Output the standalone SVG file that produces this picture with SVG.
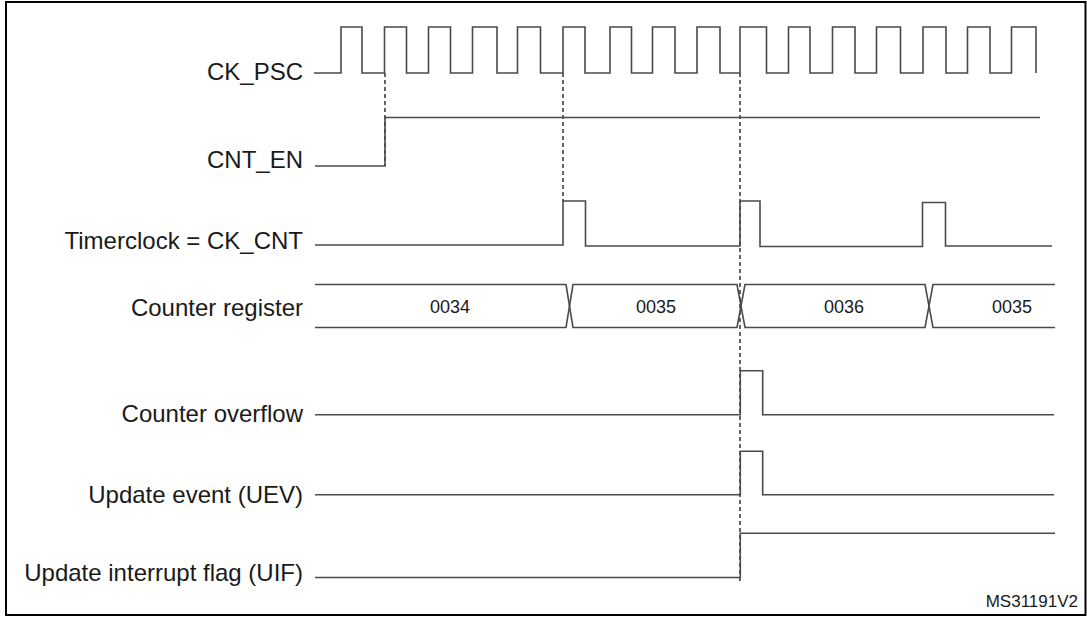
<svg xmlns="http://www.w3.org/2000/svg" width="1087" height="618" viewBox="0 0 1087 618">
<style>
.lbl{font-family:"Liberation Sans",Arial,sans-serif;font-size:24px;fill:#1a1a1a;text-anchor:end}
.val{font-family:"Liberation Sans",Arial,sans-serif;font-size:18px;fill:#1a1a1a;text-anchor:middle}
.sig{fill:none;stroke:#4a4a4a;stroke-width:1.6;stroke-linejoin:miter}
.dash{fill:none;stroke:#111;stroke-width:1.3;stroke-dasharray:4,3}
.note{font-family:"Liberation Sans",Arial,sans-serif;font-size:17px;fill:#1a1a1a;text-anchor:end}
</style>
<rect x="0" y="0" width="1087" height="618" fill="#fff"/>
<rect x="6" y="2" width="1079.5" height="613" fill="none" stroke="#000" stroke-width="2"/>
<g id="connectors">
<path class="dash" d="M385,73 V166"/>
<path class="dash" d="M563,73 V201"/>
<path class="dash" d="M740,73 V582"/>
</g>
<g id="ck_psc">
<text class="lbl" x="303" y="79.5">CK_PSC</text>
<path class="sig" d="M314,73 H341 V27 H362 V73 H384.5 V27 H406.5 V73 H428.5 V27 H450.5 V73 H472.5 V27 H497 V73 H517.5 V27 H540.5 V73 H563 V27 H585 V73 H610 V27 H631.5 V73 H652.5 V27 H675 V73 H697 V27 H720 V73 H740 V27 H766.5 V73 H788.5 V27 H810 V73 H832.5 V27 H855 V73 H876.5 V27 H900.5 V73 H923 V27 H946 V73 H967.5 V27 H990 V73 H1011.5 V27 H1036 V73"/>
</g>
<g id="cnt_en">
<text class="lbl" x="303" y="168">CNT_EN</text>
<path class="sig" d="M315,166 H385 V117.5 H1040"/>
</g>
<g id="timerclock">
<text class="lbl" x="303" y="248.5">Timerclock = CK_CNT</text>
<path class="sig" d="M315,245 H563 V201 H585.5 V246 H740 V201 H760 V246.5 H922.5 V202.5 H945.5 V246 H1052"/>
</g>
<g id="counter_register">
<text class="lbl" x="303" y="316">Counter register</text>
<path class="sig" d="M315,284.5 H566 L573,327.5 H737 L745,284.5 H925 L933,327.5 H1055"/>
<path class="sig" d="M315,327.5 H566 L573,284.5 H737 L745,327.5 H925 L933,284.5 H1055"/>
<text class="val" x="450" y="313">0034</text>
<text class="val" x="656" y="313">0035</text>
<text class="val" x="844" y="313">0036</text>
<text class="val" x="1012" y="313">0035</text>
</g>
<g id="counter_overflow">
<text class="lbl" x="303" y="421.7">Counter overflow</text>
<path class="sig" d="M315,414.7 H740.3 V370.7 H762.7 V414.7 H1054"/>
</g>
<g id="update_event">
<text class="lbl" x="303" y="502.7">Update event (UEV)</text>
<path class="sig" d="M315,494.7 H740.3 V451.3 H762.7 V494.7 H1054"/>
</g>
<g id="uif">
<text class="lbl" x="303" y="581">Update interrupt flag (UIF)</text>
<path class="sig" d="M315,577.5 H740.3 V533.3 H1055"/>
</g>
<text class="note" x="1078" y="607">MS31191V2</text>
</svg>
